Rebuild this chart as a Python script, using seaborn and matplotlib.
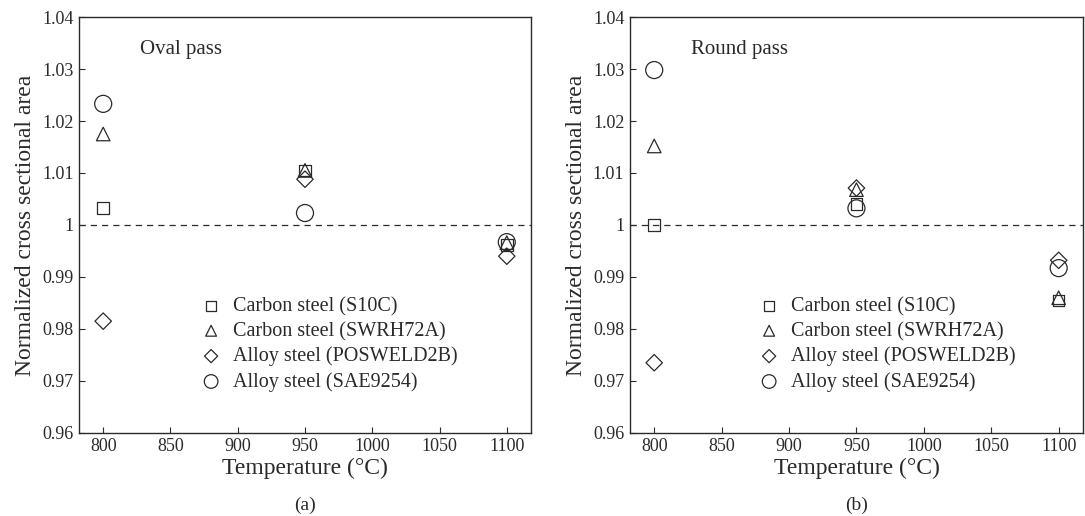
import matplotlib
matplotlib.use("Agg")
import matplotlib.pyplot as plt
import seaborn as sns
import pandas as pd

# ---- data ----
temperatures = [800, 950, 1100]
series_names = ["Carbon steel (S10C)", "Carbon steel (SWRH72A)",
                "Alloy steel (POSWELD2B)", "Alloy steel (SAE9254)"]

oval_s10c = [1.0033, 1.0105, 0.9962]
oval_swrh72a = [1.0175, 1.0105, 0.9966]
oval_posweld2b = [0.9815, 1.0088, 0.9940]
oval_sae9254 = [1.0233, 1.0023, 0.9967]

round_s10c = [1.0000, 1.0040, 0.9855]
round_swrh72a = [1.0152, 1.0068, 0.9860]
round_posweld2b = [0.9735, 1.0071, 0.9932]
round_sae9254 = [1.0298, 1.0032, 0.9917]

xticks = [800, 850, 900, 950, 1000, 1050, 1100]
yticks = [0.96, 0.97, 0.98, 0.99, 1.00, 1.01, 1.02, 1.03, 1.04]
ytick_labels = ["0.96", "0.97", "0.98", "0.99", "1", "1.01", "1.02", "1.03", "1.04"]

panels = [
    ("Oval pass", "(a)", [oval_s10c, oval_swrh72a, oval_posweld2b, oval_sae9254]),
    ("Round pass", "(b)", [round_s10c, round_swrh72a, round_posweld2b, round_sae9254]),
]

# ---- style ----
sns.set_style("ticks")
plt.rcParams["font.family"] = ["Liberation Serif", "DejaVu Serif"]

markers = ["s", "^", "D", "o"]
msizes = [70, 95, 70, 150]
ink = "#2a2a2a"

fig = plt.figure(figsize=(10.85, 5.16), dpi=100)
axes_rects = [[0.0728, 0.161, 0.4166, 0.806], [0.5806, 0.161, 0.4175, 0.806]]
legend_x = [0.27, 0.285]

for i, (title, tag, values) in enumerate(panels):
    ax = fig.add_axes(axes_rects[i])
    for name, vals, m, s in zip(series_names, values, markers, msizes):
        df = pd.DataFrame({"T": temperatures, "A": vals})
        sns.scatterplot(data=df, x="T", y="A", marker=m, s=s, color=ink,
                        facecolor="none", edgecolor=ink, linewidth=0.9,
                        label=name, ax=ax, zorder=3)
    ax.axhline(1.0, color=ink, lw=0.9, ls=(0, (5, 4)), zorder=1)
    ax.set_xlim(782, 1118)
    ax.set_ylim(0.96, 1.04)
    ax.set_xticks(xticks)
    ax.set_xticklabels([str(t) for t in xticks])
    ax.set_yticks(yticks)
    ax.set_yticklabels(ytick_labels)
    ax.tick_params(axis="both", direction="in", length=4, width=0.8,
                   labelsize=13, colors=ink, top=False, right=False, pad=4)
    for sp in ax.spines.values():
        sp.set_visible(True)
        sp.set_color(ink)
        sp.set_linewidth(1.0)
    ax.set_xlabel("Temperature (°C)", fontsize=17, color=ink, labelpad=2)
    ax.set_ylabel("Normalized cross sectional area", fontsize=17, color=ink, labelpad=4)
    ax.text(0.135, 0.923, title, transform=ax.transAxes, fontsize=15,
            color=ink, va="center", ha="left")
    leg = ax.legend(loc="center left", bbox_to_anchor=(legend_x[i], 0.213),
                    frameon=False, fontsize=14.5, handlelength=1.0,
                    handletextpad=0.6, labelspacing=0.28, borderpad=0,
                    borderaxespad=0, markerscale=0.8)
    for t in leg.get_texts():
        t.set_color(ink)
    ax.text(0.5, -0.175, tag, transform=ax.transAxes, fontsize=14,
            color=ink, ha="center", va="center")

fig.savefig("out.png", dpi=100)
